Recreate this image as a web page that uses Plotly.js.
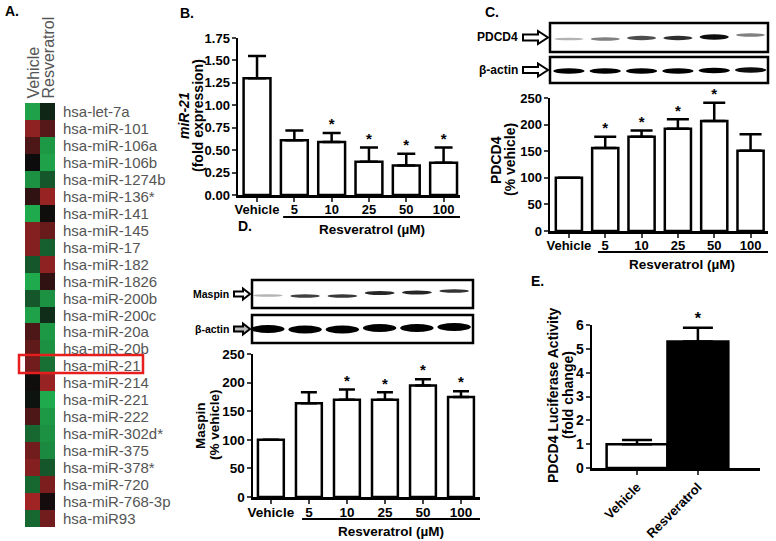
<!DOCTYPE html>
<html><head><meta charset="utf-8">
<script src="https://cdn.plot.ly/plotly-3.0.1.min.js"></script>
<style>html,body{margin:0;padding:0;background:#fff}#chart{width:776px;height:541px}</style>
</head><body><div id="chart"></div>
<script>
// ---------- DATA ----------
const mirnas = ['hsa-let-7a','hsa-miR-101','hsa-miR-106a','hsa-miR-106b','hsa-miR-1274b','hsa-miR-136*','hsa-miR-141','hsa-miR-145','hsa-miR-17','hsa-miR-182','hsa-miR-1826','hsa-miR-200b','hsa-miR-200c','hsa-miR-20a','hsa-miR-20b','hsa-miR-21','hsa-miR-214','hsa-miR-221','hsa-miR-222','hsa-miR-302d*','hsa-miR-375','hsa-miR-378*','hsa-miR-720','hsa-miR-768-3p','hsa-miR93'];
const heatCols = ['Vehicle','Resveratrol'];
const vehicleZ =     [-0.9, 0.7, 0.35, 0.0,-0.8, 0.2,-0.95, 0.65, 0.65,-0.45,-0.95,-0.45,-0.9, 0.35, 0.45, 0.55, 0.02,-0.05, 0.35,-0.55, 0.55, 0.65,-0.55, 0.8,-0.55];
const resveratrolZ = [-0.15,0.4,-0.85,-0.9,-0.45,0.75, 0.02, 0.5,-0.5, 0.7, 0.2,-0.8,-0.2,-0.85,-0.8,-0.6, 0.75,-0.95,-0.85,-0.8,-0.75,-0.45, 0.6, 0.05, 0.55];

const doseLabels = ['Vehicle','5','10','25','50','100'];
const mir21Fold = [1.30,0.61,0.59,0.37,0.33,0.36];
const mir21Err  = [0.25,0.11,0.10,0.16,0.13,0.17];
const mir21Sig  = [0,0,1,1,1,1];

const pdcd4Pct = [100,156,177,192,207,151];
const pdcd4Err = [0,21,12,18,34,31];
const pdcd4Sig = [0,1,1,1,1,0];

const maspinPct = [100,164,170,170,195,175];
const maspinErr = [0,19,18,13,11,10];
const maspinSig = [0,0,1,1,1,1];

const lucLabels = ['Vehicle','Resveratrol'];
const lucFold = [1.0,5.31];
const lucErr  = [0.17,0.57];
const lucSig  = [0,1];

// blot band intensities (0 = none, 1 = black)
const pdcd4Band  = [0.3,0.5,0.7,0.82,0.95,0.5];
const actinBandC = [1,1,1,1,1,0.95];
const maspinBand = [0.3,0.75,0.78,0.85,0.85,0.8];
const actinBandD = [1,1,1,1,1,1];

// ---------- HELPERS ----------
const W = 776, H = 541;
const fx = p => p / W;
const fy = p => 1 - p / H;
const F = "Arial, 'Liberation Sans', Helvetica, sans-serif";
const idx = a => a.map((_, i) => i);

function xax(dom, rng, anchor, labels, size, angle, standoff) {
  return {domain: [fx(dom[0]), fx(dom[1])], range: rng, anchor: anchor,
    showline: true, linewidth: 2.5, linecolor: 'black', ticks: 'outside', ticklen: 4, tickwidth: 2,
    tickvals: idx(labels), ticktext: labels, tickangle: angle || 0, ticklabelstandoff: standoff || 0,
    tickfont: {family: F, size: size, color: 'black', weight: 'bold'},
    showgrid: false, zeroline: false, fixedrange: true};
}
function yax(dom, rng, anchor, dtick, fmt, size) {
  return {domain: [fy(dom[1]), fy(dom[0])], range: rng, anchor: anchor,
    showline: true, linewidth: 2.5, linecolor: 'black', ticks: 'outside', ticklen: 4, tickwidth: 2,
    dtick: dtick, tick0: 0, tickformat: fmt, ticklabelstandoff: -1,
    tickfont: {family: F, size: size, color: 'black', weight: 'bold'},
    showgrid: false, zeroline: false, fixedrange: true};
}
function bars(vals, err, xa, ya, width, cap, colors) {
  return {type: 'bar', x: idx(vals), y: vals, xaxis: xa, yaxis: ya, width: width,
    marker: {color: colors || 'white', line: {color: 'black', width: 2.5}},
    error_y: {type: 'data', symmetric: false, array: err, arrayminus: err.map(() => 0),
      color: 'black', thickness: 2.5, width: cap},
    hoverinfo: 'skip'};
}
function stars(vals, err, sig, xa, ya, size) {
  const xs = [], ys = [];
  sig.forEach((s, i) => { if (s) { xs.push(i); ys.push(vals[i] + err[i]); } });
  return {type: 'scatter', mode: 'text', x: xs, y: ys, text: xs.map(() => '*'),
    textposition: 'top center', textfont: {family: F, size: size, color: 'black', weight: 'bold'},
    xaxis: xa, yaxis: ya, hoverinfo: 'skip', cliponaxis: false};
}

// ---------- TRACES ----------
const traces = [
  {type: 'heatmap', x: heatCols, y: mirnas, z: mirnas.map((m, i) => [vehicleZ[i], resveratrolZ[i]]),
   zmin: -1, zmax: 1, showscale: false, xaxis: 'x', yaxis: 'y', hoverinfo: 'skip',
   colorscale: [[0, 'rgb(32,178,80)'], [0.5, 'rgb(12,12,12)'], [1, 'rgb(198,42,42)']]},
  bars(mir21Fold, mir21Err, 'x2', 'y2', 0.72, 9),
  stars(mir21Fold, mir21Err, mir21Sig, 'x2', 'y2', 15),
  bars(pdcd4Pct, pdcd4Err, 'x3', 'y3', 0.72, 11),
  stars(pdcd4Pct, pdcd4Err, pdcd4Sig, 'x3', 'y3', 15),
  bars(maspinPct, maspinErr, 'x4', 'y4', 0.68, 8),
  stars(maspinPct, maspinErr, maspinSig, 'x4', 'y4', 15),
  bars(lucFold, lucErr, 'x5', 'y5', 1.0, 15, ['white', 'black']),
  stars(lucFold, lucErr, lucSig, 'x5', 'y5', 16)
];

// ---------- SHAPES ----------
const shapes = [];
function rectPx(x0, y0, x1, y1, color, lw) {
  shapes.push({type: 'rect', xref: 'paper', yref: 'paper', x0: fx(x0), x1: fx(x1), y0: fy(y1), y1: fy(y0),
    line: {color: color, width: lw}, fillcolor: 'rgba(0,0,0,0)'});
}
function linePx(xref, x0, x1, ypx, lw) {
  shapes.push({type: 'line', xref: xref, yref: 'paper', x0: x0, x1: x1, y0: fy(ypx), y1: fy(ypx),
    line: {color: 'black', width: lw}});
}
function arrowPx(x0, x1, cy, hh, sh, hl, fill) {
  const p = [[x0, cy - sh / 2], [x1 - hl, cy - sh / 2], [x1 - hl, cy - hh / 2], [x1, cy],
             [x1 - hl, cy + hh / 2], [x1 - hl, cy + sh / 2], [x0, cy + sh / 2]];
  const d = 'M' + p.map(q => fx(q[0]).toFixed(5) + ',' + fy(q[1]).toFixed(5)).join(' L') + ' Z';
  shapes.push({type: 'path', xref: 'paper', yref: 'paper', path: d, fillcolor: fill, line: {color: 'black', width: 2}});
}
function band(xref, lane, w, cy, t, intensity) {
  const g = Math.round(255 * (1 - intensity));
  shapes.push({type: 'circle', xref: xref, yref: 'paper', x0: lane - w / 2, x1: lane + w / 2,
    y0: fy(cy + t / 2), y1: fy(cy - t / 2), fillcolor: `rgb(${g},${g},${g})`, line: {width: 0}});
}

// blot frames
rectPx(550, 23, 768, 52, 'black', 2.5);
rectPx(550, 57, 768, 83, 'black', 2.5);
rectPx(252, 280, 473, 308, 'black', 2.5);
rectPx(252, 315, 473, 343, 'black', 2.5);
// bands
const pdcdY = [39, 39, 38, 38, 37, 35], pdcdT = [2.5, 3.5, 4.5, 4.5, 5.5, 3.5];
pdcd4Band.forEach((v, i) => band('x3', i, 0.8, pdcdY[i], pdcdT[i], v));
const actCY = [71, 71, 71, 71, 70.5, 70];
actinBandC.forEach((v, i) => band('x3', i, 0.86, actCY[i], 5.5, v));
const maspY = [295.5, 296, 296, 293, 292.5, 291], maspT = [2.5, 3.5, 3.5, 4, 4, 3.5];
maspinBand.forEach((v, i) => band('x4', i * 0.98 - 0.08, 0.78, maspY[i], maspT[i], v));
const actDY = [329, 329.5, 329.5, 328, 328, 327];
actinBandD.forEach((v, i) => band('x4', i * 0.98 - 0.08, 0.88, actDY[i], 8, v));
// arrows
arrowPx(523, 548, 37.5, 13, 6, 10, 'white');
arrowPx(523, 548, 70, 13, 6, 10, 'white');
arrowPx(234, 250, 294, 11, 5, 7, 'white');
arrowPx(234, 250, 329, 11, 5, 7, '#bbb');
// highlight box around miR-21
rectPx(19, 355, 143, 373, 'rgb(230,30,30)', 2.5);
// dose underlines
linePx('x2', 0.7, 5.44, 217, 2);
linePx('x3', 0.8, 5.48, 252, 2);
linePx('x4', 0.82, 5.5, 519, 2);

// ---------- ANNOTATIONS ----------
const ann = [];
function txt(text, xpx, ypx, size, opts) {
  ann.push(Object.assign({text: text, xref: 'paper', yref: 'paper', x: fx(xpx), y: fy(ypx),
    showarrow: false, xanchor: 'center', yanchor: 'middle',
    font: {family: F, size: size, color: 'black'}}, opts || {}));
}
// panel letters
txt('<b>A.</b>', 3, 11, 14, {xanchor: 'left'});
txt('<b>B.</b>', 178, 13, 14, {xanchor: 'left'});
txt('<b>C.</b>', 483, 12, 14, {xanchor: 'left'});
txt('<b>D.</b>', 236, 226, 14, {xanchor: 'left'});
txt('<b>E.</b>', 529, 281, 14, {xanchor: 'left'});
// y titles
txt('<b><i>miR-21</i></b>', 184, 116, 14, {textangle: -90});
txt('<b>(fold expression)</b>', 198, 116, 14, {textangle: -90});
txt('<b>PDCD4</b>', 496, 160, 14, {textangle: -90});
txt('<b>(% vehicle)</b>', 510, 160, 14, {textangle: -90});
txt('<b>Maspin</b>', 200, 425, 13.5, {textangle: -90});
txt('<b>(% vehicle)</b>', 214, 425, 13.5, {textangle: -90});
txt('<b>PDCD4 Luciferase Activity</b>', 553, 395, 14, {textangle: -90});
txt('<b>(fold change)</b>', 568, 395, 14, {textangle: -90});
// Resveratrol dose labels
ann.push({text: '<b>Resveratrol (µM)</b>', xref: 'x2', x: 3.08, yref: 'paper', y: fy(229), showarrow: false,
  font: {family: F, size: 13.5, color: 'black'}, yanchor: 'middle'});
ann.push({text: '<b>Resveratrol (µM)</b>', xref: 'x3', x: 3.12, yref: 'paper', y: fy(264), showarrow: false,
  font: {family: F, size: 13.5, color: 'black'}, yanchor: 'middle'});
ann.push({text: '<b>Resveratrol (µM)</b>', xref: 'x4', x: 3.15, yref: 'paper', y: fy(531), showarrow: false,
  font: {family: F, size: 13.5, color: 'black'}, yanchor: 'middle'});
// blot labels
txt('<b>PDCD4</b>', 520, 37.5, 12, {xanchor: 'right'});
txt('<b>β-actin</b>', 520, 70, 12, {xanchor: 'right'});
txt('<b>Maspin</b>', 231, 294, 10.5, {xanchor: 'right'});
txt('<b>β-actin</b>', 231, 329, 10.5, {xanchor: 'right'});
// heatmap labels
mirnas.forEach((m, i) => ann.push({text: m, xref: 'paper', x: fx(61), yref: 'y', y: i, xanchor: 'left',
  yanchor: 'middle', showarrow: false, font: {family: F, size: 15, color: '#555'}}));
heatCols.forEach((c, i) => ann.push({text: c, xref: 'x', x: i, yref: 'paper', y: fy(101), xanchor: 'center',
  yanchor: 'bottom', textangle: -90, showarrow: false, font: {family: F, size: 16, color: '#555'}}));

// ---------- LAYOUT ----------
const layout = {
  width: W, height: H, margin: {l: 0, r: 0, t: 0, b: 0, pad: 0},
  paper_bgcolor: 'white', plot_bgcolor: 'rgba(0,0,0,0)', showlegend: false,
  font: {family: F, color: 'black'},
  xaxis: {domain: [fx(25), fx(55)], range: [-0.5, 1.5], visible: false, anchor: 'y', fixedrange: true},
  yaxis: {domain: [fy(527), fy(103)], range: [24.5, -0.5], type: 'category', visible: false, anchor: 'x', fixedrange: true},
  xaxis2: xax([238, 460], [-0.51, 5.44], 'y2', doseLabels, 13, 0, -3),
  yaxis2: yax([38, 195], [0, 1.75], 'x2', 0.25, '.2f', 13),
  xaxis3: xax([550, 768], [-0.52, 5.48], 'y3', doseLabels, 13, 0, -3),
  yaxis3: yax([98, 231], [0, 250], 'x3', 50, 'd', 13),
  xaxis4: xax([253, 480], [-0.47, 5.5], 'y4', doseLabels, 13.5, 0, -3),
  yaxis4: yax([354, 497], [0, 250], 'x4', 50, 'd', 13.5),
  xaxis5: xax([592, 760], [-0.74, 2.02], 'y5', lucLabels, 13, -45, 0),
  yaxis5: yax([325, 468], [0, 6], 'x5', 1, 'd', 14),
  shapes: shapes, annotations: ann, bargap: 0
};

Plotly.newPlot('chart', traces, layout, {displayModeBar: false, staticPlot: true});
</script></body></html>
